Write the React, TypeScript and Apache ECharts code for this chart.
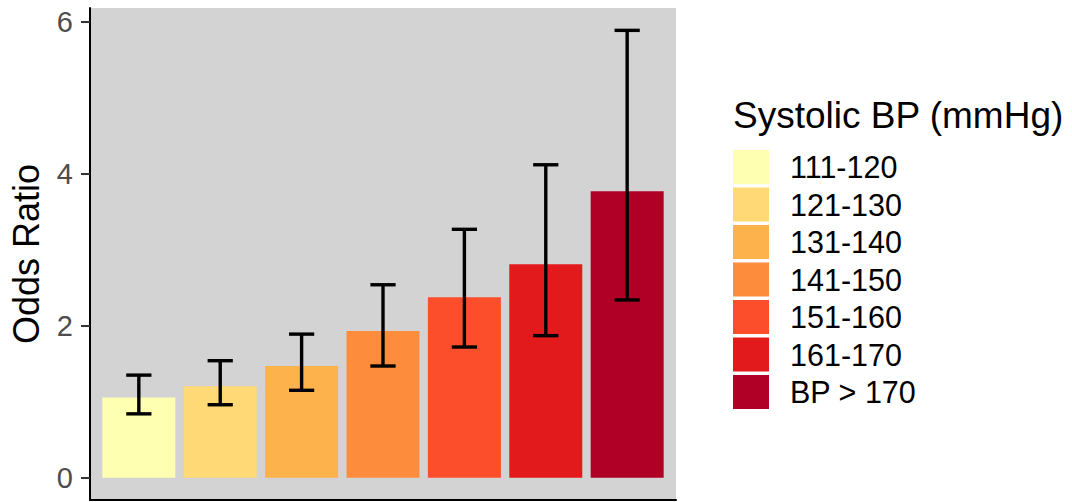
import React, { useEffect, useRef } from "react";
import * as echarts from "echarts";

const categories = ["111-120", "121-130", "131-140", "141-150", "151-160", "161-170", "BP > 170"];
const oddsRatio = [1.055, 1.205, 1.47, 1.93, 2.375, 2.81, 3.77];
const ciLower = [0.84, 0.96, 1.15, 1.47, 1.72, 1.87, 2.34];
const ciUpper = [1.35, 1.54, 1.89, 2.54, 3.27, 4.12, 5.89];
const barColors = ["#FFFFB2", "#FED976", "#FEB24C", "#FD8D3C", "#FC4E2A", "#E31A1C", "#B10026"];
const yTicks = [0, 2, 4, 6];

const FONT = "Liberation Sans, Arial, sans-serif";

export default function App() {
  const ref = useRef<HTMLDivElement>(null);
  useEffect(() => {
    if (!ref.current) return;
    const chart = echarts.init(ref.current, undefined, { renderer: "svg" });
    const yMax = Math.max(...ciUpper);
    const pad = yMax * 0.05;

    const barSeries = categories.map((c, i) => ({
      name: c,
      type: "bar",
      data: [[i + 1, oddsRatio[i]]],
      barWidth: 73,
      barGap: "-100%",
      itemStyle: { color: barColors[i] },
      emphasis: { disabled: true },
    }));

    const errData = categories.map((_, i) => [i + 1, ciLower[i], ciUpper[i]]);

    chart.setOption({
      animation: false,
      textStyle: { fontFamily: FONT },
      title: {
        text: "Systolic BP (mmHg)",
        left: 733,
        top: 97,
        padding: 0,
        textStyle: { fontSize: 37, fontWeight: "normal", color: "#000", fontFamily: FONT },
      },
      legend: {
        orient: "vertical",
        left: 733,
        top: 150,
        padding: 0,
        itemWidth: 36,
        itemHeight: 34,
        itemGap: 3.5,
        icon: "rect",
        selectedMode: false,
        data: categories,
        textStyle: { fontSize: 30.5, color: "#000", fontFamily: FONT, padding: [0, 0, 0, 16] },
      },
      grid: {
        left: 90,
        top: 8,
        width: 586,
        height: 492,
        show: true,
        backgroundColor: "#D3D3D3",
        borderWidth: 0,
        containLabel: false,
        outerBoundsMode: "none",
      },
      xAxis: {
        type: "value",
        min: 0.4,
        max: 7.6,
        axisLine: { show: true, onZero: false, lineStyle: { color: "#000", width: 2 } },
        axisTick: { show: false },
        axisLabel: { show: false },
        splitLine: { show: false },
      },
      yAxis: {
        type: "value",
        min: -pad,
        max: yMax + pad,
        name: "Odds Ratio",
        nameLocation: "middle",
        nameRotate: 90,
        nameGap: 46,
        nameTextStyle: { fontSize: 36, color: "#000", fontFamily: FONT },
        axisLine: { show: true, onZero: false, lineStyle: { color: "#000", width: 2 } },
        axisTick: { show: true, length: 9, customValues: yTicks, lineStyle: { color: "#333", width: 2 } },
        axisLabel: { show: true, customValues: yTicks, fontSize: 29, color: "#4D4D4D", margin: 17, fontFamily: FONT },
        splitLine: { show: false },
      },
      series: [
        ...barSeries,
        {
          type: "custom",
          name: "ci",
          data: errData,
          z: 10,
          silent: true,
          renderItem: (params: any, api: any) => {
            const x = api.value(0);
            const lo = api.value(1);
            const hi = api.value(2);
            const w = 0.155;
            const pTop = api.coord([x, hi]);
            const pBot = api.coord([x, lo]);
            const pTL = api.coord([x - w, hi]);
            const pTR = api.coord([x + w, hi]);
            const pBL = api.coord([x - w, lo]);
            const pBR = api.coord([x + w, lo]);
            const style = { stroke: "#000", lineWidth: 3.4 };
            return {
              type: "group",
              children: [
                { type: "line", shape: { x1: pTop[0], y1: pTop[1], x2: pBot[0], y2: pBot[1] }, style },
                { type: "line", shape: { x1: pTL[0], y1: pTL[1], x2: pTR[0], y2: pTR[1] }, style },
                { type: "line", shape: { x1: pBL[0], y1: pBL[1], x2: pBR[0], y2: pBR[1] }, style },
              ],
            };
          },
        },
      ],
    });
    return () => chart.dispose();
  }, []);
  return (
    <div
      ref={ref}
      style={{ position: "fixed", left: 0, top: 0, width: 1072, height: 502, background: "#fff" }}
    />
  );
}
